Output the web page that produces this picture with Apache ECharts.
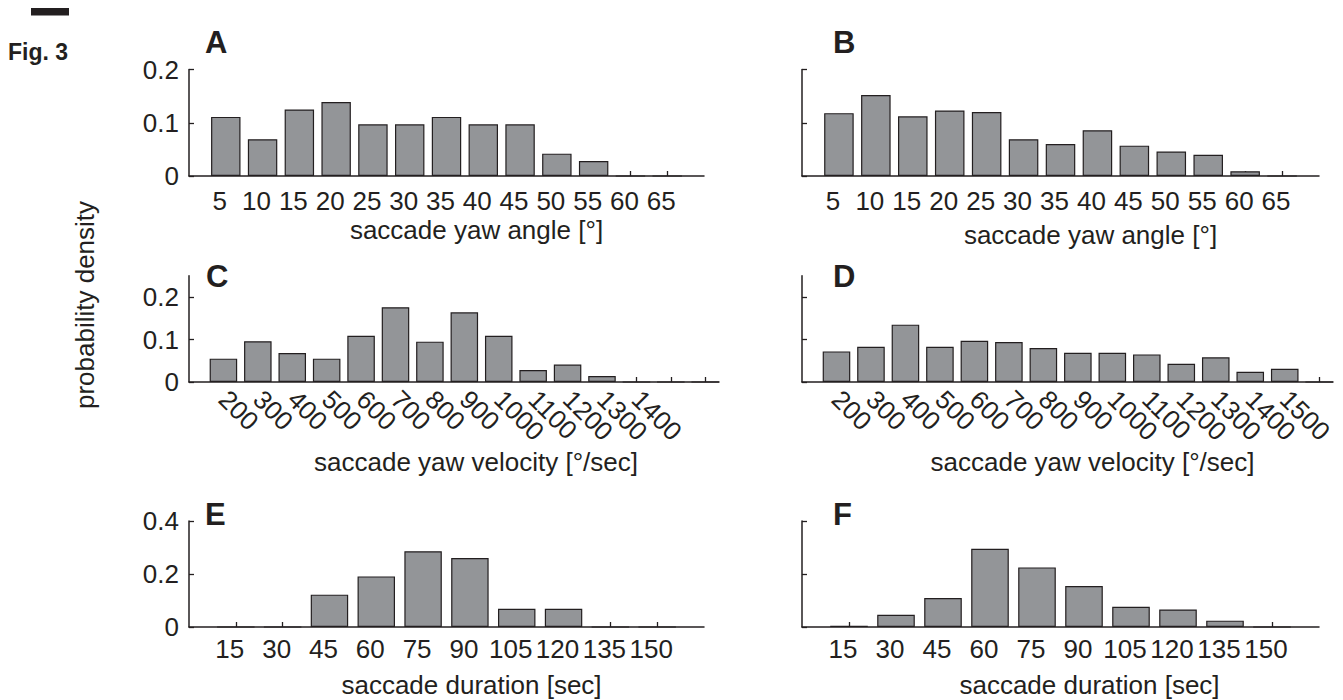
<!DOCTYPE html>
<html>
<head>
<meta charset="utf-8">
<title>Fig. 3 – saccade statistics</title>
<script src="https://cdn.jsdelivr.net/npm/echarts@6/dist/echarts.min.js"></script>
<style>
  html, body { margin: 0; padding: 0; background: #ffffff; }
  #chart { width: 1343px; height: 700px; }
</style>
</head>
<body>
<div id="chart"></div>
<script>
// ---- data -------------------------------------------------------------
// bin centres and tick labels
const angleBins = [5, 10, 15, 20, 25, 30, 35, 40, 45, 50, 55, 60, 65];
const angleTickLabels = [5, 10, 15, 20, 25, 30, 35, 40, 45, 50, 55, 60, 65];
const velocityBins = [200, 300, 400, 500, 600, 700, 800, 900, 1000, 1100, 1200, 1300, 1400, 1500, 1600];
const velocityTickLabelsC = [200, 300, 400, 500, 600, 700, 800, 900, 1000, 1100, 1200, 1300, 1400];
const velocityTickLabelsD = [200, 300, 400, 500, 600, 700, 800, 900, 1000, 1100, 1200, 1300, 1400, 1500];
const durationBins = [15, 30, 45, 60, 75, 90, 105, 120, 135, 150];
const durationTickLabels = [15, 30, 45, 60, 75, 90, 105, 120, 135, 150];

// probability density per bin
const angleDensityA = [0.111, 0.069, 0.125, 0.139, 0.097, 0.097, 0.111, 0.097, 0.097, 0.042, 0.028, 0, 0];
const angleDensityB = [0.118, 0.152, 0.112, 0.123, 0.120, 0.069, 0.060, 0.086, 0.057, 0.046, 0.040, 0.009, 0];
const velocityDensityC = [0.055, 0.096, 0.068, 0.055, 0.109, 0.176, 0.095, 0.164, 0.109, 0.028, 0.041, 0.014, 0, 0, 0];
const velocityDensityD = [0.072, 0.083, 0.135, 0.083, 0.097, 0.094, 0.080, 0.069, 0.069, 0.065, 0.043, 0.058, 0.024, 0.031, 0];
const durationDensityE = [0, 0, 0.122, 0.191, 0.286, 0.260, 0.069, 0.069, 0, 0];
const durationDensityF = [0.005, 0.046, 0.109, 0.295, 0.225, 0.155, 0.076, 0.066, 0.024, 0];

// y tick values
const angleDensityTicks = [0, 0.1, 0.2];
const velocityDensityTicks = [0, 0.1, 0.2];
const durationDensityTicks = [0, 0.2, 0.4];

// text
const figureLabel = 'Fig. 3';
const panelLetters = ['A', 'B', 'C', 'D', 'E', 'F'];
const angleTitle = 'saccade yaw angle [°]';
const velocityTitle = 'saccade yaw velocity [°/sec]';
const durationTitle = 'saccade duration [sec]';
const densityTitle = 'probability density';

// ---- styling ----------------------------------------------------------
const FONT = "'Liberation Sans', Arial, Helvetica, sans-serif";
const INK = '#231f20';
const BAR_FILL = '#939598';
const TEXT_SIZE = 26;

// one entry per panel: where it sits and which data it draws
const panels = [
  { letter: panelLetters[0], bins: angleBins, values: angleDensityA, ticks: angleTickLabels,
    yTicks: angleDensityTicks, showY: true, xMin: 0, xMax: 70, yMax: 0.2, title: angleTitle,
    grid: { left: 189, top: 69.5, width: 515, height: 106.5 }, labelMargin: 12, rotate: 0,
    nameGap: 41, nameShift: 30, letterPos: [205, 42] },
  { letter: panelLetters[1], bins: angleBins, values: angleDensityB, ticks: angleTickLabels,
    yTicks: angleDensityTicks, showY: false, xMin: 0, xMax: 70, yMax: 0.2, title: angleTitle,
    grid: { left: 802, top: 69.5, width: 517, height: 106.5 }, labelMargin: 12, rotate: 0,
    nameGap: 46, nameShift: 30, letterPos: [833, 42] },
  { letter: panelLetters[2], bins: velocityBins, values: velocityDensityC, ticks: velocityTickLabelsC,
    yTicks: velocityDensityTicks, showY: true, xMin: 100, xMax: 1640, yMax: 0.25, title: velocityTitle,
    grid: { left: 189, top: 275.75, width: 530, height: 106.25 }, labelMargin: 13, rotate: -45,
    nameGap: 67, nameShift: 22, letterPos: [206, 276] },
  { letter: panelLetters[3], bins: velocityBins, values: velocityDensityD, ticks: velocityTickLabelsD,
    yTicks: velocityDensityTicks, showY: false, xMin: 100, xMax: 1640, yMax: 0.25, title: velocityTitle,
    grid: { left: 802, top: 275.75, width: 531, height: 106.25 }, labelMargin: 13, rotate: -45,
    nameGap: 67, nameShift: 25, letterPos: [833, 276] },
  { letter: panelLetters[4], bins: durationBins, values: durationDensityE, ticks: durationTickLabels,
    yTicks: durationDensityTicks, showY: true, xMin: 0, xMax: 165, yMax: 0.4, title: durationTitle,
    grid: { left: 189, top: 521, width: 515, height: 106 }, labelMargin: 9, rotate: 0,
    nameGap: 45, nameShift: 25, letterPos: [205, 514] },
  { letter: panelLetters[5], bins: durationBins, values: durationDensityF, ticks: durationTickLabels,
    yTicks: durationDensityTicks, showY: false, xMin: 0, xMax: 165, yMax: 0.4, title: durationTitle,
    grid: { left: 802, top: 521, width: 517, height: 106 }, labelMargin: 9, rotate: 0,
    nameGap: 45, nameShift: 29, letterPos: [833, 514] }
];

const axisLineStyle = { color: INK, width: 1.5 };
const tickLineStyle = { color: INK, width: 1.3 };

const grids = [], xAxes = [], yAxes = [], series = [], graphics = [];

panels.forEach(function (p, i) {
  grids.push(Object.assign({ containLabel: false }, p.grid));

  // blank labels at both axis ends keep the min/max-label overlap check
  // away from the real tick labels (the slanted ones overlap their neighbours)
  const labelSet = {};
  p.ticks.forEach(function (t) { labelSet[t] = true; });
  const labelValues = [p.xMin].concat(p.ticks, [p.xMax]);

  xAxes.push({
    gridIndex: i,
    type: 'value',
    min: p.xMin,
    max: p.xMax,
    axisLine: { show: true, onZero: false, lineStyle: axisLineStyle },
    axisTick: { show: true, inside: true, length: 5, customValues: p.bins, lineStyle: tickLineStyle },
    axisLabel: {
      show: true,
      customValues: labelValues,
      showMinLabel: false,
      showMaxLabel: false,
      hideOverlap: false,
      formatter: function (v) { return labelSet[v] ? String(v) : ''; },
      rotate: p.rotate,
      margin: p.labelMargin,
      padding: p.rotate ? 0 : [0, 12, 0, 0],
      color: INK,
      fontFamily: FONT,
      fontSize: TEXT_SIZE
    },
    splitLine: { show: false },
    name: p.title,
    nameLocation: 'middle',
    nameGap: p.nameGap,
    nameTextStyle: {
      color: INK, fontFamily: FONT, fontSize: TEXT_SIZE,
      padding: [0, 0, 0, p.nameShift * 2]
    }
  });

  yAxes.push({
    gridIndex: i,
    type: 'value',
    min: 0,
    max: p.yMax,
    axisLine: { show: true, onZero: false, lineStyle: axisLineStyle },
    axisTick: { show: true, inside: true, length: 5, customValues: p.yTicks, lineStyle: tickLineStyle },
    axisLabel: {
      show: p.showY,
      customValues: p.yTicks,
      showMinLabel: true,
      showMaxLabel: true,
      formatter: function (v) { return String(v); },
      margin: 10,
      color: INK,
      fontFamily: FONT,
      fontSize: TEXT_SIZE
    },
    splitLine: { show: false }
  });

  series.push({
    type: 'bar',
    name: p.letter,
    xAxisIndex: i,
    yAxisIndex: i,
    barWidth: '80%',
    silent: true,
    itemStyle: { color: BAR_FILL, borderColor: INK, borderWidth: 1.2 },
    data: p.bins.map(function (b, k) { return [b, p.values[k]]; })
  });

  graphics.push({
    type: 'text',
    x: p.letterPos[0],
    y: p.letterPos[1],
    style: {
      text: p.letter,
      fill: INK,
      font: 'bold 31px ' + FONT,
      textAlign: 'left',
      textVerticalAlign: 'middle'
    }
  });
});

// figure tag, marker bar and the shared y-axis title
graphics.push(
  { type: 'rect', shape: { x: 31, y: 8, width: 38, height: 7.5 }, style: { fill: INK } },
  { type: 'text', x: 8, y: 52,
    style: { text: figureLabel, fill: INK, font: 'bold 23px ' + FONT, textAlign: 'left', textVerticalAlign: 'middle' } },
  { type: 'text', x: 85, y: 305, rotation: Math.PI / 2,
    style: { text: densityTitle, fill: INK, font: TEXT_SIZE + 'px ' + FONT, textAlign: 'center', textVerticalAlign: 'middle' } }
);

const chart = echarts.init(document.getElementById('chart'), null, { renderer: 'svg' });
chart.setOption({
  backgroundColor: '#ffffff',
  animation: false,
  textStyle: { fontFamily: FONT, color: INK },
  grid: grids,
  xAxis: xAxes,
  yAxis: yAxes,
  series: series,
  graphic: graphics
});
</script>
</body>
</html>
